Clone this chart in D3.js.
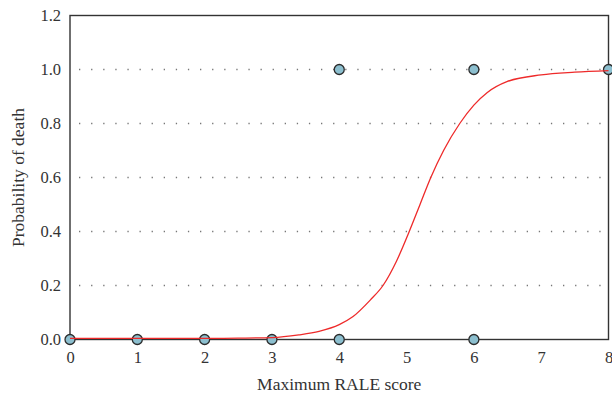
<!DOCTYPE html>
<html>
<head>
<meta charset="utf-8">
<script src="https://cdn.jsdelivr.net/npm/d3@7"></script>
<style>
html,body{margin:0;padding:0;background:#fff;}
svg{display:block;}
</style>
</head>
<body>
<svg id="chart" width="612" height="395"></svg>
<script>
// Observed points
const pointX = [0, 1, 2, 3, 4, 4, 6, 6, 8];
const pointY = [0, 0, 0, 0, 0, 1, 0, 1, 1];
// Fitted curve
const curveX = [0, 1, 2, 2.5, 3, 3.4, 3.7, 4, 4.2, 4.46, 4.65, 4.85, 5.04, 5.2, 5.36, 5.55, 5.79, 6, 6.2, 6.49, 7, 7.5, 8];
const curveY = [0.004, 0.004, 0.004, 0.005, 0.007, 0.017, 0.03, 0.055, 0.084, 0.146, 0.2, 0.29, 0.4, 0.5, 0.6, 0.7, 0.8, 0.868, 0.915, 0.955, 0.98, 0.99, 0.996];
const xTicks = [0, 1, 2, 3, 4, 5, 6, 7, 8];
const yTicks = [0, 0.2, 0.4, 0.6, 0.8, 1.0, 1.2];
const gridTicks = [0.2, 0.4, 0.6, 0.8, 1.0];

const svg = d3.select("#chart");
const m = {left: 70, right: 3.5, top: 15.5, bottom: 55.5};
const W = 612, H = 395;
const x = d3.scaleLinear().domain([0, 8]).range([m.left, W - m.right]);
const y = d3.scaleLinear().domain([0, 1.2]).range([H - m.bottom, m.top]);
const font = "'Liberation Serif', 'DejaVu Serif', serif";

// grid
svg.append("g").selectAll("line").data(gridTicks).join("line")
  .attr("x1", x(0) + 9).attr("x2", x(8) - 6)
  .attr("y1", d => y(d)).attr("y2", d => y(d))
  .attr("stroke", "#777").attr("stroke-width", 1.3)
  .attr("stroke-dasharray", "1.3,10.8");

// frame
svg.append("rect")
  .attr("x", x(0)).attr("y", y(1.2))
  .attr("width", x(8) - x(0)).attr("height", y(0) - y(1.2))
  .attr("fill", "none").attr("stroke", "#333").attr("stroke-width", 1.4);

// axes
const xAxis = svg.append("g").attr("transform", `translate(0,${y(0)})`)
  .call(d3.axisBottom(x).tickValues(xTicks).tickSize(0).tickPadding(12).tickFormat(d3.format("d")));
const yAxis = svg.append("g").attr("transform", `translate(${x(0)},0)`)
  .call(d3.axisLeft(y).tickValues(yTicks).tickSize(0).tickPadding(9).tickFormat(d3.format(".1f")));
[xAxis, yAxis].forEach(a => {
  a.select(".domain").remove();
  a.selectAll("text").attr("font-family", font).attr("font-size", 16.5).attr("fill", "#333");
});

// points
svg.append("g").selectAll("circle").data(pointX.map((d, i) => [d, pointY[i]])).join("circle")
  .attr("cx", d => x(d[0])).attr("cy", d => y(d[1])).attr("r", 5)
  .attr("fill", "#8cbfcf").attr("stroke", "#2b2b2b").attr("stroke-width", 1.3);

// curve
const line = d3.line().x(d => x(d[0])).y(d => y(d[1])).curve(d3.curveMonotoneX);
svg.append("path").datum(curveX.map((d, i) => [d, curveY[i]]))
  .attr("d", line).attr("fill", "none").attr("stroke", "#ee2a2a").attr("stroke-width", 1.3);

// titles
svg.append("text").attr("x", x(4)).attr("y", 390)
  .attr("text-anchor", "middle").attr("font-family", font).attr("font-size", 17.5).attr("fill", "#333")
  .text("Maximum RALE score");
svg.append("text").attr("transform", `translate(24,${(y(0) + y(1.2)) / 2}) rotate(-90)`)
  .attr("text-anchor", "middle").attr("font-family", font).attr("font-size", 17.5).attr("fill", "#333")
  .text("Probability of death");
</script>
</body>
</html>
